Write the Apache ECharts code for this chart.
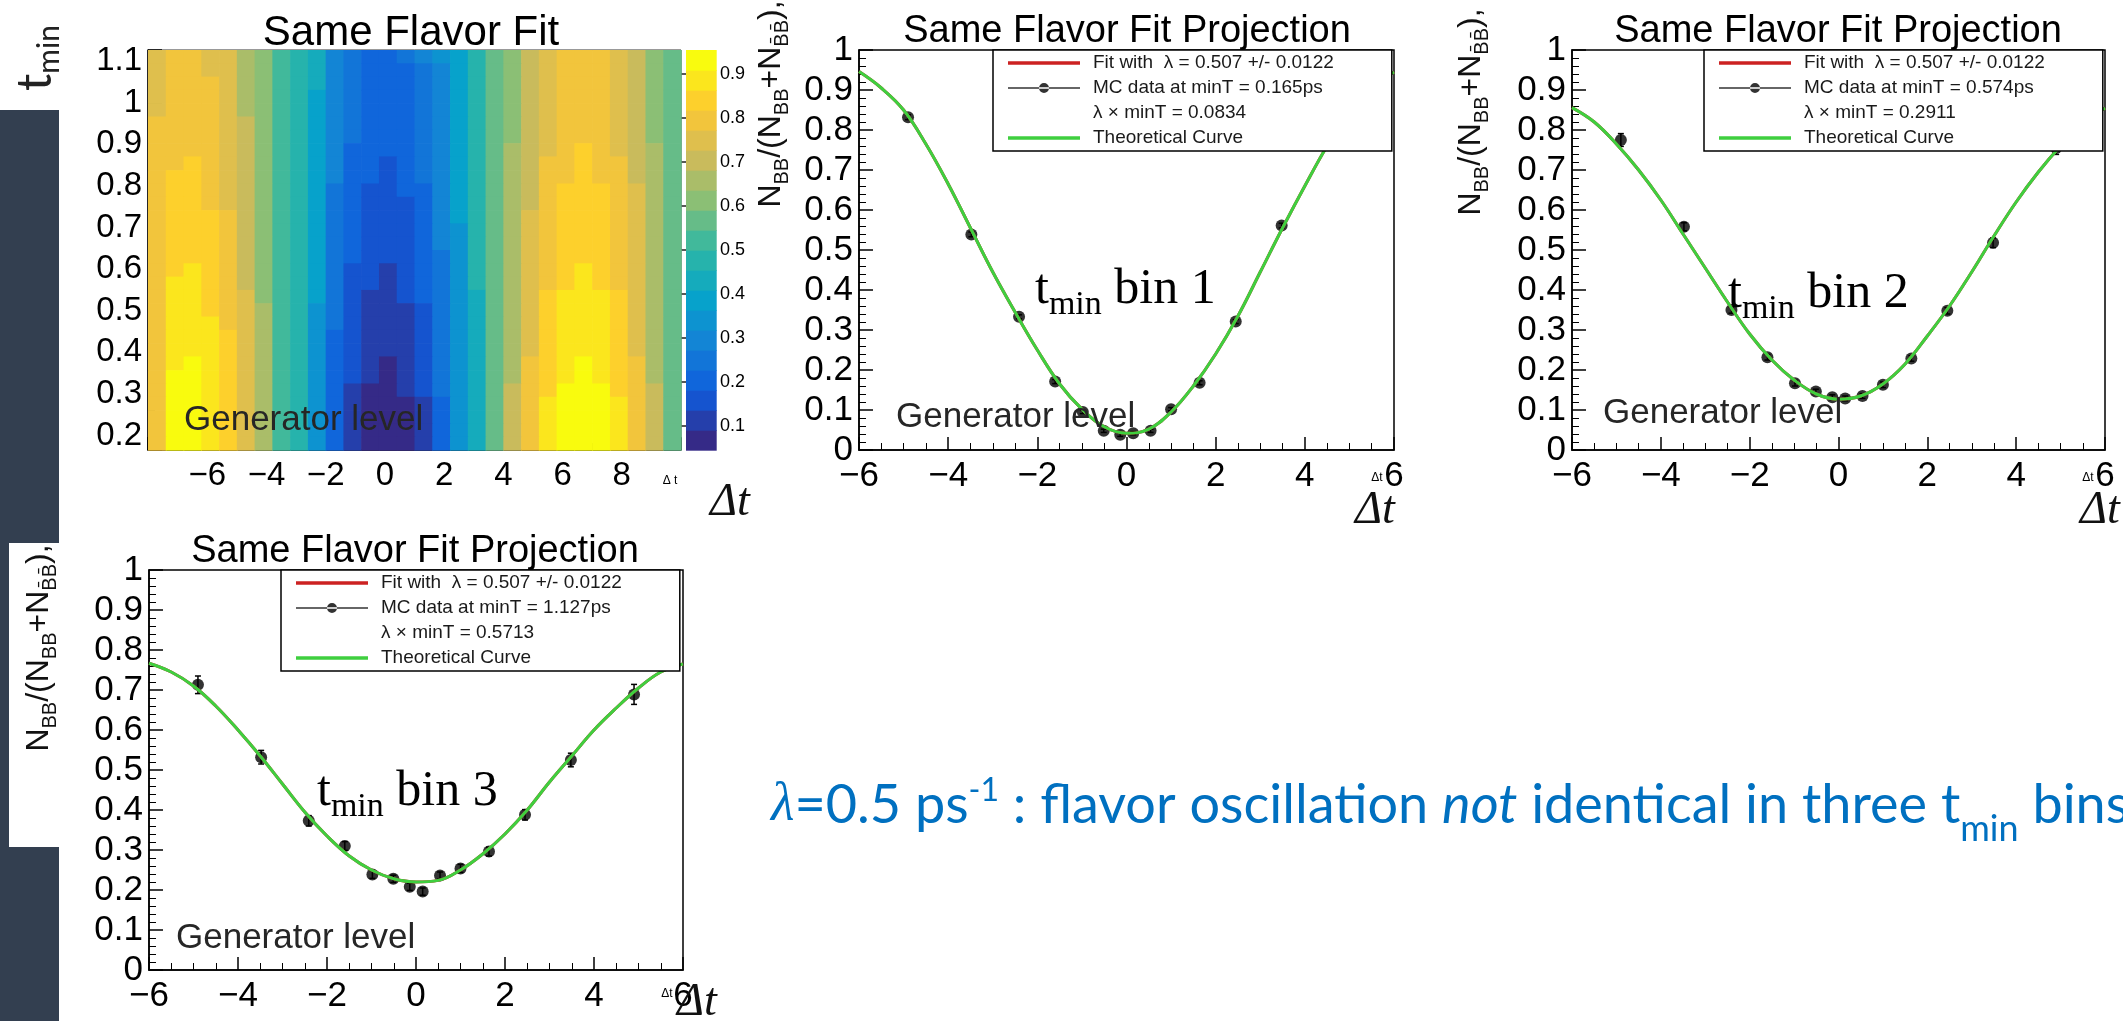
<!DOCTYPE html>
<html><head><meta charset="utf-8"><title>Same Flavor Fit</title>
<script src="https://cdn.jsdelivr.net/npm/echarts@6.0.0/dist/echarts.min.js"></script>
<style>html,body{margin:0;padding:0;background:#ffffff;overflow:hidden}#chart{width:2123px;height:1021px}</style>
</head><body><div id="chart"></div><script>
// ---------------- data ----------------
const dtEdges = [-8,-7.4,-6.8,-6.2,-5.6,-5,-4.4,-3.8,-3.2,-2.6,-2,-1.4,-0.8,-0.2,0.4,1,1.6,2.2,2.8,3.4,4,4.6,5.2,5.8,6.4,7,7.6,8.2,8.8,9.4,10];
const tminEdges = [0.165,0.197,0.229,0.261,0.293,0.325,0.357,0.390,0.422,0.454,0.486,0.518,0.550,0.582,0.614,0.646,0.678,0.710,0.742,0.774,0.806,0.838,0.871,0.903,0.935,0.967,0.999,1.031,1.063,1.095,1.127];
// colour level of every cell (0..19 written as 0-9,a-j); first string = top row (largest t_min)
const levelCodes = '0123456789abcdefghij';
const heatRows = [
 'fggffdca98543345679bcefgggfecb',
 'fggffdca98543334579bcefgggfecb',
 'fgggfdca98543334579bcefgggfecb',
 'fgggfdca97543334579bcefgggfecb',
 'fgggfdca97543334579bcefgggfecb',
 'ggggfeca97543334579bcefgggfecb',
 'ggggfeca97543334579bcefgggfecb',
 'ggggfeca97533334579bdefghgfedb',
 'gghgfeca97533234579bdegghggedb',
 'ghhgfeca97533234579bdegghggedb',
 'ghhgfeca97432233579bdeghhhgfdb',
 'ghhgfeca97432223579bdeghhhgfdb',
 'ghhhgeca97432223579bdfghhhgfdb',
 'ghhhgeca97432223569bdfghhhgfdb',
 'ghhhgeca97432223569bdfghhhgfdb',
 'ghhhgeca97432223469bdfghhhgfdb',
 'ghihgeca97422123469bdfghihgfdb',
 'giihgeca97422123469bdfghihgfdb',
 'giihgfca97421123468bdfhiiihfdb',
 'giihgfda96421112468bdfhiiihfdb',
 'giiigfda96421112468bdfhiiihfdb',
 'giiihfda96321112468bdfhiiihfdb',
 'giiihfda96321112468bdfhiiihfdb',
 'gijihfda96321012468bdghijihgdb',
 'gjjihfda96321012468bdghijihgdb',
 'gjjihfda96310012468beghjjjhgeb',
 'gjjihfda96310001368begijjjigeb',
 'gjjihfda96310001368begijjjigeb',
 'gjjihfda96310001368begijjjigeb',
 'gjjihfda96310001368begijjjigeb'
];
const zMin = 0.046, zMax = 0.954;
const birdPalette = ['#352a87','#253fab','#1554cf','#1066db','#1275d8','#1385d5','#0d93d0','#07a2cb','#15abbc','#26b3ac',
                     '#41b99b','#66bc88','#8bbf75','#aabd69','#c9bb5c','#dfbf4d','#f2c53c','#fdd02c','#fbe61d','#f9fb0e'];

const dtPoints   = [-4.9,-3.48,-2.41,-1.6,-0.98,-0.51,-0.14,0.15,0.54,1.0,1.64,2.45,3.48,4.9];
const bin1Values = [0.832,0.539,0.333,0.171,0.095,0.048,0.038,0.042,0.048,0.102,0.168,0.321,0.561,0.84];
const bin1Errors = [0.006,0.006,0.005,0.005,0.004,0.004,0.004,0.004,0.004,0.004,0.005,0.005,0.006,0.007];
const bin2Values = [0.775,0.558,0.35,0.232,0.167,0.146,0.132,0.129,0.135,0.163,0.229,0.348,0.518,0.755];
const bin2Errors = [0.016,0.010,0.008,0.007,0.007,0.006,0.006,0.006,0.006,0.007,0.007,0.008,0.012,0.016];
const bin3Values = [0.713,0.532,0.373,0.31,0.239,0.228,0.208,0.196,0.236,0.254,0.296,0.388,0.525,0.689];
const bin3Errors = [0.022,0.017,0.013,0.011,0.010,0.009,0.009,0.009,0.009,0.010,0.011,0.013,0.017,0.025];

const curveDt   = [-6,-5.5,-5,-4.5,-4,-3.5,-3,-2.5,-2,-1.5,-1,-0.5,0,0.5,1,1.5,2,2.5,3,3.5,4,4.5,5,5.5,6];
const curveBin1 = [0.946,0.905,0.85,0.765,0.665,0.555,0.445,0.345,0.25,0.165,0.102,0.058,0.042,0.052,0.095,0.16,0.24,0.335,0.445,0.555,0.66,0.76,0.845,0.905,0.945];
const curveBin2 = [0.856,0.82,0.765,0.7,0.625,0.54,0.455,0.37,0.29,0.225,0.175,0.14,0.127,0.135,0.165,0.215,0.285,0.36,0.445,0.535,0.62,0.695,0.76,0.815,0.855];
const curveBin3 = [0.767,0.745,0.71,0.66,0.6,0.535,0.465,0.395,0.335,0.285,0.25,0.228,0.22,0.224,0.25,0.29,0.34,0.4,0.47,0.535,0.6,0.655,0.705,0.745,0.765];

const minTLabels = ['0.165ps','0.574ps','1.127ps'];
const lambdaMinT = ['0.0834','0.2911','0.5713'];
const binNames   = ['1','2','3'];
const fitLabel = 'Fit with  \u03bb = 0.507 +/- 0.0122';
const theoryLabel = 'Theoretical Curve';

// ---------------- building ----------------
const RF = "'Liberation Sans', Arial, Helvetica, sans-serif";
const SF = "'Liberation Serif', 'DejaVu Serif', serif";
const SL = "Lato, 'Open Sans', 'Noto Sans', sans-serif";
const nLev = birdPalette.length;
const dz = (zMax - zMin) / nLev;
const levelValue = k => zMin + (k + 0.5) * dz;

const heatData = [];
heatRows.forEach((row, r) => {
  const j = heatRows.length - 1 - r;
  for (let i = 0; i < row.length; i++) {
    heatData.push([dtEdges[i], dtEdges[i + 1], tminEdges[j], tminEdges[j + 1], levelValue(levelCodes.indexOf(row[i]))]);
  }
});
const barData = birdPalette.map((c, k) => [0, 1, zMin + k * dz, zMin + (k + 1) * dz, levelValue(k)]);
const pieces = birdPalette.map((c, k) => k === nLev - 1 ? {gte: zMin + k * dz, lte: zMax + 1, color: c} : {gte: zMin + k * dz, lt: zMin + (k + 1) * dz, color: c});

function renderCell(params, api) {
  const a = api.coord([api.value(0), api.value(3)]);
  const b = api.coord([api.value(1), api.value(2)]);
  return {type: 'rect', shape: {x: a[0], y: a[1], width: b[0] - a[0] + 0.7, height: b[1] - a[1] + 0.7}, style: {fill: api.visual('color')}};
}
function renderErr(params, api) {
  const x = api.value(0);
  const a = api.coord([x, api.value(1)]), b = api.coord([x, api.value(2)]);
  const st = {stroke: '#000', lineWidth: 1.5};
  return {type: 'group', children: [
    {type: 'line', shape: {x1: a[0], y1: a[1], x2: b[0], y2: b[1]}, style: st},
    {type: 'line', shape: {x1: a[0] - 3, y1: a[1], x2: a[0] + 3, y2: a[1]}, style: st},
    {type: 'line', shape: {x1: b[0] - 3, y1: b[1], x2: b[0] + 3, y2: b[1]}, style: st}]};
}
const minus = v => (v < 0 ? '\u2212' + Math.abs(v) : String(v));
const zip = (xs, ys) => xs.map((x, i) => [x, ys[i]]);

const blackLine = {color: '#000', width: 1.5};
function valueAxis(gi, o) {
  return Object.assign({gridIndex: gi, type: 'value', splitLine: {show: false},
    axisLine: {show: true, onZero: false, lineStyle: blackLine},
    axisTick: {show: true, inside: true, length: 14, lineStyle: blackLine},
    minorTick: {show: true, splitNumber: 5, length: 7, lineStyle: {color: '#000', width: 1}},
    axisLabel: {color: '#000', fontFamily: RF, fontSize: 35}}, o);
}

const grids = [
  {left: 148, top: 50, width: 533, height: 400, show: true, borderColor: '#333', borderWidth: 1, backgroundColor: 'transparent'},
  {left: 686, top: 50, width: 30, height: 400},
  {left: 859, top: 50, width: 535, height: 400, show: true, borderColor: '#000', borderWidth: 1.5, backgroundColor: '#fff'},
  {left: 1572, top: 50, width: 533, height: 400, show: true, borderColor: '#000', borderWidth: 1.5, backgroundColor: '#fff'},
  {left: 149, top: 570, width: 534, height: 400, show: true, borderColor: '#000', borderWidth: 1.5, backgroundColor: '#fff'}
];
const xAxes = [
  valueAxis(0, {min: -8, max: 10, interval: 2, minorTick: {show: true, splitNumber: 4, length: 7, lineStyle: {color: '#000', width: 1}},
    axisTick: {show: true, inside: true, length: 13, lineStyle: blackLine},
    axisLabel: {color: '#000', fontFamily: RF, fontSize: 33, margin: 9, showMinLabel: false, showMaxLabel: false, formatter: minus}}),
  {gridIndex: 1, type: 'value', min: 0, max: 1, show: false},
  ...[2, 3, 4].map(g => valueAxis(g, {min: -6, max: 6, interval: 2,
    minorTick: {show: true, splitNumber: 4, length: 7, lineStyle: {color: '#000', width: 1}},
    axisTick: {show: true, inside: true, length: 13, lineStyle: blackLine},
    axisLabel: {color: '#000', fontFamily: RF, fontSize: 35, margin: 9, formatter: minus}}))
];
const yAxes = [
  valueAxis(0, {min: 0.165, max: 1.127, splitNumber: 10,
    axisLabel: {color: '#000', fontFamily: RF, fontSize: 33, margin: 6, showMinLabel: false, showMaxLabel: false}}),
  {gridIndex: 1, type: 'value', position: 'right', min: zMin, max: zMax, splitNumber: 9, splitLine: {show: false},
    axisLine: {show: false}, axisTick: {show: true, inside: true, length: 14, lineStyle: {color: '#222', width: 1.5}},
    axisLabel: {color: '#000', fontFamily: RF, fontSize: 18, margin: 4, showMinLabel: false, showMaxLabel: false}},
  ...[2, 3, 4].map(g => valueAxis(g, {min: 0, max: 1, interval: 0.1,
    axisLabel: {color: '#000', fontFamily: RF, fontSize: 35, margin: 6}}))
];

const panels = [
  {grid: 2, values: bin1Values, errors: bin1Errors, curve: curveBin1},
  {grid: 3, values: bin2Values, errors: bin2Errors, curve: curveBin2},
  {grid: 4, values: bin3Values, errors: bin3Errors, curve: curveBin3}
];
const series = [
  {type: 'custom', xAxisIndex: 0, yAxisIndex: 0, renderItem: renderCell, data: heatData, encode: {x: [0, 1], y: [2, 3]}, silent: true, z: 1},
  {type: 'custom', xAxisIndex: 1, yAxisIndex: 1, renderItem: renderCell, data: barData, encode: {x: [0, 1], y: [2, 3]}, silent: true, z: 1}
];
const legends = [];
const LINE_ICON = 'path://M0,3.2 L72,3.2 L72,6.8 L0,6.8 Z';
const MC_ICON = 'path://M0,4.3 L72,4.3 L72,5.7 L0,5.7 Z M31,5 A5,5 0 1,0 41,5 A5,5 0 1,0 31,5 Z';
const legendPos = [[993, 50], [1704, 50], [281, 570]];
panels.forEach((p, i) => {
  const g = p.grid;
  const mcName = 'MC data at minT = ' + minTLabels[i];
  const lamName = '\u03bb \u00d7 minT = ' + lambdaMinT[i];
  series.push(
    {type: 'custom', xAxisIndex: g, yAxisIndex: g, renderItem: renderErr, encode: {x: 0, y: [1, 2]},
      data: dtPoints.map((d, k) => [d, p.values[k] - p.errors[k], p.values[k] + p.errors[k]]), z: 2, silent: true},
    {name: mcName, type: 'scatter', xAxisIndex: g, yAxisIndex: g, data: zip(dtPoints, p.values), symbolSize: 12, itemStyle: {color: '#000'}, z: 2, silent: true},
    {name: fitLabel, type: 'line', xAxisIndex: g, yAxisIndex: g, data: zip(curveDt, p.curve), smooth: 0.4, showSymbol: false, lineStyle: {color: '#cc2222', width: 3}, z: 3, silent: true},
    {name: theoryLabel, type: 'line', xAxisIndex: g, yAxisIndex: g, data: zip(curveDt, p.curve), smooth: 0.4, showSymbol: false, lineStyle: {color: '#3fcf3f', width: 3}, z: 4, silent: true},
    {name: lamName, type: 'line', xAxisIndex: g, yAxisIndex: g, data: [], showSymbol: false, silent: true}
  );
  legends.push({orient: 'vertical', left: legendPos[i][0], top: legendPos[i][1], z: 10,
    backgroundColor: '#fff', borderColor: '#000', borderWidth: 1.5, padding: [3, 58, 3, 15],
    itemGap: 5, itemWidth: 72, itemHeight: 10, selectedMode: false,
    textStyle: {fontSize: 19, color: '#1a1a1a', fontFamily: RF, lineHeight: 20, padding: [0, 0, 0, 8]},
    data: [
      {name: fitLabel, icon: LINE_ICON, itemStyle: {color: '#cc2222'}},
      {name: mcName, icon: MC_ICON, itemStyle: {color: '#000'}},
      {name: lamName, icon: 'rect', itemStyle: {color: 'rgba(0,0,0,0)'}},
      {name: theoryLabel, icon: LINE_ICON, itemStyle: {color: '#3fcf3f'}}
    ]});
});

// ---------------- text overlays ----------------
function text(x, y, t, o) {
  return Object.assign({type: 'text', x, y, z: 100, silent: true,
    style: Object.assign({text: t, fill: '#000', align: 'center', verticalAlign: 'middle'}, o.style || {})}, o.el || {});
}
const yTitleRich = {
  n: {fontSize: 32, fontFamily: RF, fill: '#111', lineHeight: 38},
  s: {fontSize: 20, fontFamily: RF, fill: '#111', lineHeight: 20, padding: [22, 0, 0, 0]}
};
const yTitleText = '{n|N}{s|BB}{n|/(N}{s|BB}{n|+N}{s|B\u0304B\u0304}{n|),}';
const binRich = {
  t: {fontSize: 50, fontFamily: SF, fill: '#000', lineHeight: 56},
  s: {fontSize: 34, fontFamily: SF, fill: '#000', lineHeight: 34, padding: [30, 0, 0, 0]}
};
const bigDt = {fontSize: 46, fontFamily: SF, fontStyle: 'italic', fill: '#111'};
const genStyle = {fontSize: 35, fontFamily: RF, fill: '#262626', align: 'left'};

const graphics = [
  {type: 'rect', shape: {x: 0, y: 110, width: 59, height: 911}, style: {fill: '#333f50'}, z: 0, silent: true},
  {type: 'rect', shape: {x: 9, y: 543, width: 50, height: 304}, style: {fill: '#ffffff'}, z: 1, silent: true},
  // slide label t_min (rotated)
  text(36, 58, '{t|t}{s|min}', {el: {rotation: Math.PI / 2}, style: {rich: {
    t: {fontSize: 48, fontFamily: SL, fill: '#222', lineHeight: 50},
    s: {fontSize: 30, fontFamily: SL, fill: '#222', lineHeight: 30, padding: [26, 0, 0, 0]}}}}),
  // titles
  text(411, 33, 'Same Flavor Fit', {style: {fontSize: 42, fontFamily: RF}}),
  text(1127, 32, 'Same Flavor Fit Projection', {style: {fontSize: 38, fontFamily: RF}}),
  text(1838, 32, 'Same Flavor Fit Projection', {style: {fontSize: 38, fontFamily: RF}}),
  text(415, 552, 'Same Flavor Fit Projection', {style: {fontSize: 38, fontFamily: RF}}),
  // Generator level
  text(184, 420, 'Generator level', {style: genStyle}),
  text(896, 417, 'Generator level', {style: genStyle}),
  text(1603, 413, 'Generator level', {style: genStyle}),
  text(176, 938, 'Generator level', {style: genStyle}),
  // y titles (rotated)
  text(771, 104, yTitleText, {el: {rotation: Math.PI / 2}, style: {rich: yTitleRich}}),
  text(1471, 112, yTitleText, {el: {rotation: Math.PI / 2}, style: {rich: yTitleRich}}),
  text(39, 648, yTitleText, {el: {rotation: Math.PI / 2}, style: {rich: yTitleRich}}),
  // t_min bin N
  text(1035, 290, '{t|t}{s|min}{t| bin ' + binNames[0] + '}', {style: {align: 'left', rich: binRich}}),
  text(1728, 294, '{t|t}{s|min}{t| bin ' + binNames[1] + '}', {style: {align: 'left', rich: binRich}}),
  text(317, 792, '{t|t}{s|min}{t| bin ' + binNames[2] + '}', {style: {align: 'left', rich: binRich}}),
  // big Delta t
  text(730, 503, '\u0394t', {style: bigDt}),
  text(1375, 511, '\u0394t', {style: bigDt}),
  text(2100, 511, '\u0394t', {style: bigDt}),
  text(697, 1003, '\u0394t', {style: bigDt}),
  // tiny axis titles
  text(670, 481, '\u0394 t', {style: {fontSize: 12, fontFamily: RF}}),
  text(1377, 478, '\u0394t', {style: {fontSize: 12, fontFamily: RF}}),
  text(2088, 478, '\u0394t', {style: {fontSize: 12, fontFamily: RF}}),
  text(667, 994, '\u0394t', {style: {fontSize: 12, fontFamily: RF}}),
  // statement
  text(771, 806, '{l|\u03bb}{n|=0.5 ps}{sup|-1}{n| : flavor oscillation }{i|not}{n| identical in three t}{sub|min}{n| bins}', {style: {align: 'left', rich: {
    l: {fontSize: 54, fontFamily: SF, fontStyle: 'italic', fill: '#0070c0', lineHeight: 60},
    n: {fontSize: 54, fontFamily: SL, fill: '#0070c0', lineHeight: 60},
    i: {fontSize: 54, fontFamily: SL, fontStyle: 'italic', fill: '#0070c0', lineHeight: 60},
    sup: {fontSize: 32, fontFamily: SL, fill: '#0070c0', lineHeight: 32, padding: [0, 0, 30, 0]},
    sub: {fontSize: 36, fontFamily: SL, fill: '#0070c0', lineHeight: 36, padding: [46, 0, 0, 0]}}}})
];

const chart = echarts.init(document.getElementById('chart'), null, {renderer: 'canvas', width: 2123, height: 1021});
chart.setOption({
  animation: false,
  backgroundColor: '#ffffff',
  textStyle: {fontFamily: RF},
  grid: grids,
  xAxis: xAxes,
  yAxis: yAxes,
  visualMap: {type: 'piecewise', show: false, dimension: 4, seriesIndex: [0, 1], pieces: pieces},
  legend: legends,
  series: series,
  graphic: {elements: graphics}
});
</script></body></html>
